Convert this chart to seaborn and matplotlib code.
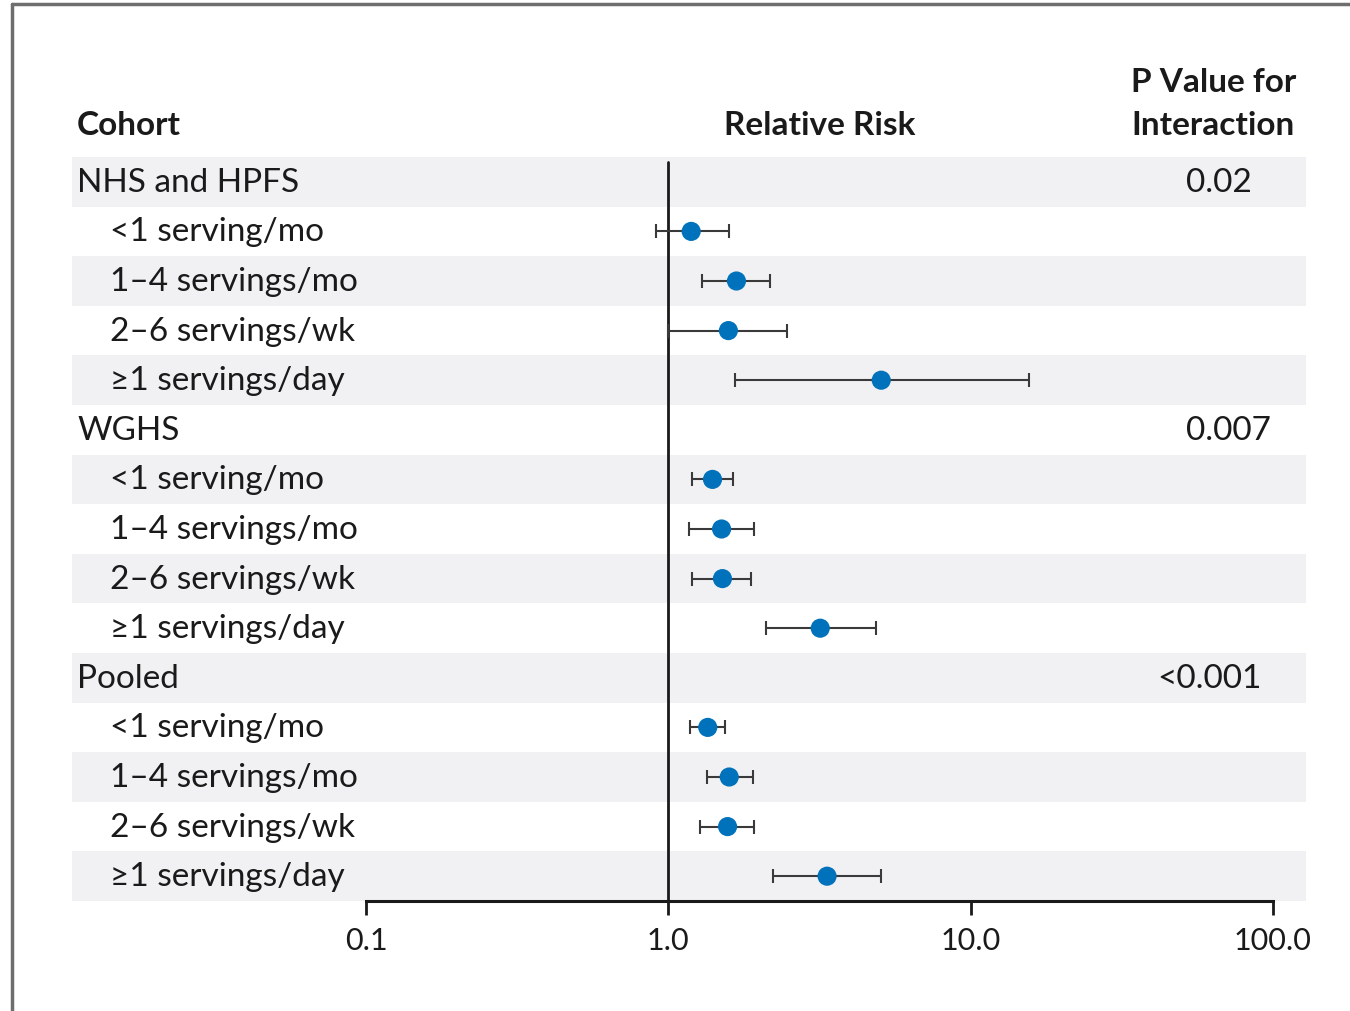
import matplotlib
matplotlib.use("Agg")
import matplotlib.pyplot as plt
from matplotlib.lines import Line2D
import numpy as np
import pandas as pd
import seaborn as sns

# ---- data ----
row_labels = [
    "NHS and HPFS", "<1 serving/mo", "1\u20134 servings/mo", "2\u20136 servings/wk", "\u22651 servings/day",
    "WGHS", "<1 serving/mo", "1\u20134 servings/mo", "2\u20136 servings/wk", "\u22651 servings/day",
    "Pooled", "<1 serving/mo", "1\u20134 servings/mo", "2\u20136 servings/wk", "\u22651 servings/day",
]
is_header = [True, False, False, False, False] * 3
rel_risk = [np.nan, 1.19, 1.68, 1.58, 5.06,
            np.nan, 1.40, 1.50, 1.51, 3.18,
            np.nan, 1.35, 1.59, 1.57, 3.35]
ci_low = [np.nan, 0.91, 1.29, 1.00, 1.66,
          np.nan, 1.20, 1.17, 1.20, 2.11,
          np.nan, 1.18, 1.34, 1.27, 2.22]
ci_high = [np.nan, 1.59, 2.17, 2.47, 15.6,
           np.nan, 1.64, 1.92, 1.88, 4.87,
           np.nan, 1.54, 1.91, 1.92, 5.06]
p_values = ["0.02", "0.007", "<0.001"]
p_rows = [0, 5, 10]
x_ticks = [0.1, 1.0, 10.0, 100.0]
x_tick_labels = ["0.1", "1.0", "10.0", "100.0"]

df = pd.DataFrame({"label": row_labels, "rr": rel_risk, "lo": ci_low,
                   "hi": ci_high, "row": np.arange(len(row_labels))})

sns.set_theme(style="white")
plt.rcParams["font.family"] = ["Lato", "DejaVu Sans"]

W, H = 1350, 1012
fig = plt.figure(figsize=(W / 100, H / 100), dpi=100)
ax_left, ax_right, ax_top, ax_bottom = 72, 1306, 158, 902
ax = fig.add_axes([ax_left / W, 1 - ax_bottom / H,
                   (ax_right - ax_left) / W, (ax_bottom - ax_top) / H])

ax.set_xscale("log")
decade = (1273 - 366) / 3.0
ax.set_xlim(10 ** (-1 - (366 - ax_left) / decade), 10 ** (2 + (ax_right - 1273) / decade))
n = len(row_labels)
ax.set_ylim(n - 0.5, -0.5)

band = "#f1f1f3"
for r in range(0, n, 2):
    ax.axhspan(r - 0.5, r + 0.5, color=band, zorder=0, lw=0)

# reference line at RR = 1
ax.plot([1, 1], [-0.4, n - 0.5], color="#1a1a1a", lw=2.0, zorder=2)

pts = df.dropna()
ax.errorbar(pts["rr"], pts["row"],
            xerr=[pts["rr"] - pts["lo"], pts["hi"] - pts["rr"]],
            fmt="none", ecolor="#3a3a3a", elinewidth=1.5, capsize=5,
            capthick=1.5, zorder=3)
sns.scatterplot(data=pts, x="rr", y="row", color="#0072bc", s=190,
                edgecolor="none", zorder=4, ax=ax, legend=False)

# axis styling
for side in ["top", "right", "left"]:
    ax.spines[side].set_visible(False)
ax.spines["bottom"].set_bounds(0.1, 100)
ax.spines["bottom"].set_linewidth(2.2)
ax.spines["bottom"].set_color("#1a1a1a")
ax.set_yticks([])
ax.set_xticks(x_ticks)
ax.set_xticklabels(x_tick_labels)
ax.xaxis.set_minor_locator(matplotlib.ticker.NullLocator())
ax.tick_params(axis="x", direction="out", length=10, width=2, color="#1a1a1a",
               labelsize=22, pad=8, bottom=True, labelcolor="#1a1a1a")
ax.set_xlabel("")
ax.set_ylabel("")

# row labels
trans = ax.get_yaxis_transform()
def fx(px):
    return (px - ax_left) / (ax_right - ax_left)

fs = 24
for i, (lab, hdr) in enumerate(zip(row_labels, is_header)):
    ax.text(fx(77 if hdr else 110), i, lab, transform=trans, ha="left",
            va="center", fontsize=fs, color="#1a1a1a")

for row, pv in zip(p_rows, p_values):
    if pv.startswith("<"):
        ax.text(fx(1262), row, pv, transform=trans, ha="right", va="center",
                fontsize=fs, color="#1a1a1a")
    else:
        ax.text(fx(1186), row, pv, transform=trans, ha="left", va="center",
                fontsize=fs, color="#1a1a1a")

# column headers
hdr_kw = dict(fontsize=fs, fontweight="bold", color="#1a1a1a")
fig.text(77 / W, 1 - 126 / H, "Cohort", ha="left", va="center", **hdr_kw)
fig.text(820 / W, 1 - 126 / H, "Relative Risk", ha="center", va="center", **hdr_kw)
fig.text(1131 / W, 1 - 83 / H, "P Value for", ha="left", va="center", **hdr_kw)
fig.text(1131 / W, 1 - 126 / H, "Interaction", ha="left", va="center", **hdr_kw)

# outer frame (top and left edges)
frame_c = "#6e6e6e"
fig.add_artist(Line2D([12 / W, 1.0], [1 - 5 / H, 1 - 5 / H], color=frame_c, lw=2.5,
                      transform=fig.transFigure))
fig.add_artist(Line2D([12 / W, 12 / W], [1 - 5 / H, 0.0], color=frame_c, lw=2.5,
                      transform=fig.transFigure))

fig.savefig("out.png", dpi=100, facecolor="white")
